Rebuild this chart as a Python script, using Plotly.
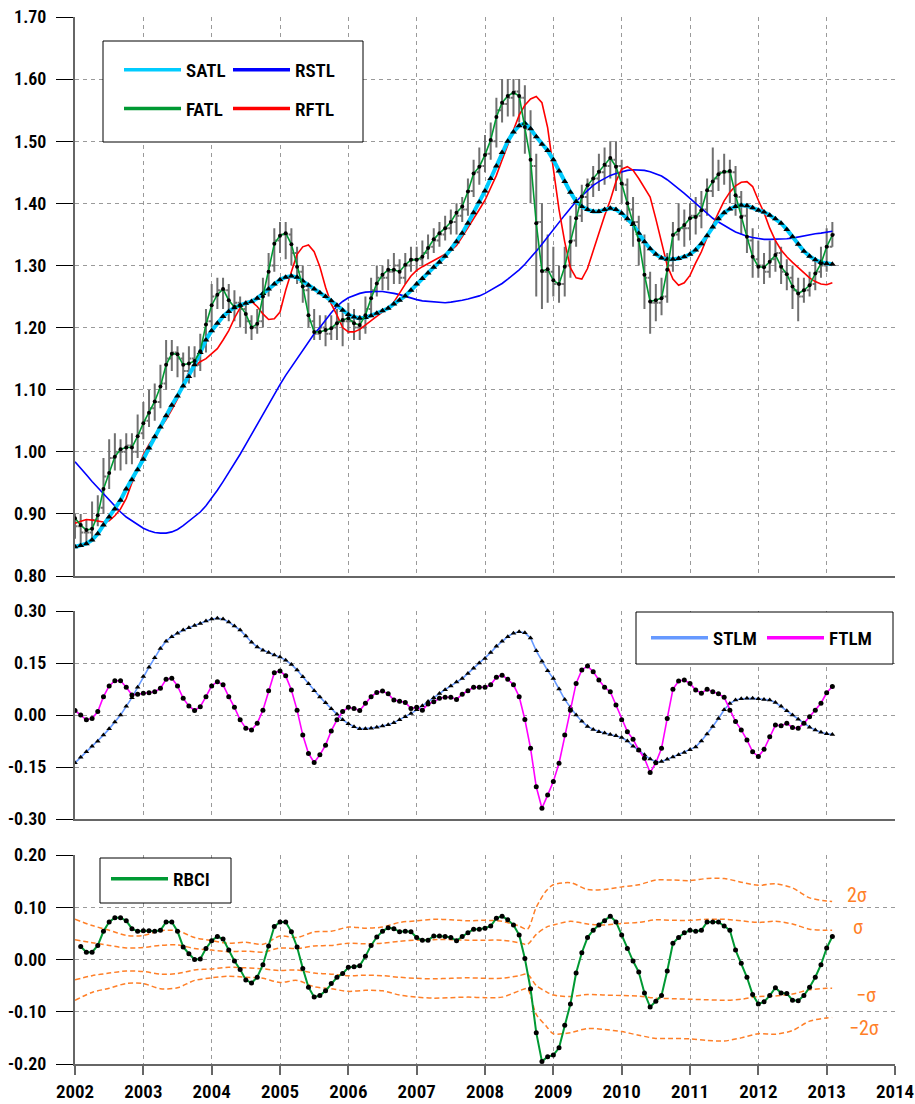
import plotly.graph_objects as go

# ---------------- data ----------------
years = list(range(2002, 2015))
year_labels = [str(y) for y in years]
months = [2002 + i / 12 for i in range(134)]          # monthly, Jan 2002 .. Feb 2013
rbci_months = months[1:]                                # Feb 2002 .. Feb 2013

ohlc_close = [
    0.88, 0.87, 0.87, 0.89, 0.91, 0.96, 0.99, 1.00, 1.00, 1.01, 1.00, 1.03,
    1.05, 1.07, 1.08, 1.11, 1.15, 1.16, 1.15, 1.13, 1.15, 1.14, 1.17, 1.21,
    1.25, 1.26, 1.26, 1.23, 1.24, 1.23, 1.21, 1.20, 1.21, 1.26, 1.30, 1.34,
    1.35, 1.35, 1.32, 1.29, 1.26, 1.21, 1.19, 1.20, 1.19, 1.20, 1.21, 1.21,
    1.21, 1.20, 1.20, 1.23, 1.26, 1.28, 1.28, 1.29, 1.30, 1.28, 1.30, 1.31,
    1.31, 1.32, 1.33, 1.34, 1.35, 1.36, 1.37, 1.38, 1.39, 1.42, 1.45, 1.46,
    1.48, 1.50, 1.55, 1.56, 1.57, 1.58, 1.57, 1.52, 1.46, 1.37, 1.29, 1.29,
    1.27, 1.27, 1.30, 1.34, 1.38, 1.41, 1.43, 1.44, 1.45, 1.46, 1.47, 1.46,
    1.43, 1.39, 1.37, 1.34, 1.28, 1.24, 1.24, 1.25, 1.30, 1.35, 1.36, 1.36,
    1.38, 1.38, 1.39, 1.42, 1.44, 1.45, 1.45, 1.45, 1.41, 1.38, 1.34, 1.31,
    1.30, 1.29, 1.31, 1.32, 1.29, 1.28, 1.26, 1.25, 1.26, 1.27, 1.29, 1.30,
    1.33, 1.35]
ohlc_high = [
    0.90, 0.90, 0.89, 0.92, 0.93, 0.99, 1.02, 1.03, 1.02, 1.03, 1.03, 1.06,
    1.08, 1.10, 1.11, 1.14, 1.18, 1.18, 1.17, 1.16, 1.17, 1.17, 1.19, 1.23,
    1.27, 1.28, 1.28, 1.27, 1.26, 1.25, 1.24, 1.22, 1.23, 1.28, 1.32, 1.36,
    1.37, 1.37, 1.36, 1.33, 1.30, 1.27, 1.23, 1.22, 1.22, 1.22, 1.23, 1.23,
    1.24, 1.23, 1.22, 1.25, 1.28, 1.30, 1.30, 1.31, 1.32, 1.31, 1.32, 1.33,
    1.33, 1.34, 1.35, 1.36, 1.37, 1.38, 1.39, 1.40, 1.41, 1.44, 1.47, 1.49,
    1.51, 1.53, 1.57, 1.60, 1.60, 1.60, 1.60, 1.59, 1.55, 1.48, 1.40, 1.35,
    1.33, 1.30, 1.33, 1.38, 1.41, 1.43, 1.44, 1.46, 1.48, 1.49, 1.50, 1.50,
    1.47, 1.44, 1.41, 1.38, 1.35, 1.29, 1.27, 1.28, 1.32, 1.37, 1.40, 1.39,
    1.40, 1.41, 1.42, 1.44, 1.49, 1.47, 1.48, 1.47, 1.46, 1.42, 1.40, 1.36,
    1.34, 1.32, 1.34, 1.34, 1.33, 1.31, 1.30, 1.28, 1.28, 1.29, 1.31, 1.33,
    1.36, 1.37]
ohlc_low = [
    0.86, 0.85, 0.85, 0.86, 0.88, 0.90, 0.94, 0.97, 0.97, 0.98, 0.98, 0.99,
    1.02, 1.04, 1.05, 1.07, 1.10, 1.13, 1.12, 1.11, 1.11, 1.12, 1.13, 1.16,
    1.20, 1.23, 1.23, 1.21, 1.21, 1.20, 1.19, 1.18, 1.19, 1.20, 1.25, 1.29,
    1.32, 1.31, 1.30, 1.27, 1.24, 1.20, 1.18, 1.18, 1.17, 1.18, 1.18, 1.17,
    1.19, 1.18, 1.18, 1.19, 1.22, 1.25, 1.26, 1.26, 1.27, 1.27, 1.27, 1.29,
    1.29, 1.30, 1.31, 1.32, 1.33, 1.34, 1.35, 1.35, 1.37, 1.38, 1.41, 1.43,
    1.45, 1.47, 1.49, 1.53, 1.54, 1.54, 1.53, 1.48, 1.40, 1.25, 1.23, 1.24,
    1.25, 1.24, 1.25, 1.28, 1.33, 1.37, 1.39, 1.41, 1.42, 1.43, 1.44, 1.42,
    1.40, 1.37, 1.33, 1.30, 1.23, 1.19, 1.21, 1.22, 1.24, 1.29, 1.34, 1.33,
    1.34, 1.35, 1.36, 1.38, 1.41, 1.42, 1.43, 1.40, 1.38, 1.35, 1.32, 1.28,
    1.28, 1.27, 1.28, 1.29, 1.27, 1.26, 1.23, 1.21, 1.24, 1.25, 1.26, 1.28,
    1.29, 1.33]
ohlc_open = [ohlc_close[0]] + ohlc_close[:-1]   # each bar opens at the previous close

satl = [
    0.847, 0.849, 0.852, 0.858, 0.868, 0.882, 0.895, 0.908, 0.922, 0.940, 0.955, 0.971,
    0.988, 1.006, 1.024, 1.040, 1.058, 1.075, 1.090, 1.106, 1.121, 1.140, 1.160, 1.180,
    1.195, 1.207, 1.218, 1.226, 1.232, 1.236, 1.239, 1.242, 1.247, 1.255, 1.262, 1.270,
    1.277, 1.281, 1.283, 1.281, 1.275, 1.268, 1.262, 1.256, 1.250, 1.243, 1.236, 1.228,
    1.221, 1.217, 1.215, 1.216, 1.219, 1.223, 1.227, 1.231, 1.238, 1.244, 1.251, 1.260,
    1.270, 1.279, 1.288, 1.297, 1.305, 1.315, 1.326, 1.338, 1.352, 1.368, 1.385, 1.402,
    1.420, 1.440, 1.460, 1.482, 1.500, 1.515, 1.525, 1.529, 1.520, 1.507, 1.495, 1.485,
    1.470, 1.452, 1.435, 1.418, 1.403, 1.395, 1.390, 1.387, 1.387, 1.390, 1.392, 1.390,
    1.384, 1.375, 1.366, 1.352, 1.338, 1.327, 1.318, 1.312, 1.310, 1.310, 1.311, 1.314,
    1.318, 1.325, 1.335, 1.348, 1.362, 1.375, 1.385, 1.391, 1.395, 1.397, 1.396, 1.393,
    1.389, 1.386, 1.381, 1.375, 1.368, 1.358, 1.346, 1.334, 1.323, 1.315, 1.309, 1.305,
    1.303, 1.302]
fatl = [
    0.893, 0.882, 0.874, 0.876, 0.898, 0.940, 0.966, 0.992, 1.004, 1.007, 1.007, 1.025,
    1.046, 1.063, 1.081, 1.105, 1.140, 1.158, 1.157, 1.140, 1.142, 1.146, 1.162, 1.205,
    1.236, 1.253, 1.262, 1.244, 1.233, 1.235, 1.222, 1.200, 1.206, 1.250, 1.290, 1.335,
    1.348, 1.352, 1.334, 1.298, 1.266, 1.220, 1.193, 1.193, 1.196, 1.199, 1.207, 1.212,
    1.215, 1.207, 1.204, 1.220, 1.247, 1.271, 1.285, 1.293, 1.293, 1.290, 1.301, 1.309,
    1.309, 1.314, 1.328, 1.342, 1.352, 1.360, 1.370, 1.385, 1.395, 1.419, 1.448, 1.459,
    1.478, 1.502, 1.539, 1.562, 1.573, 1.578, 1.573, 1.523, 1.470, 1.368, 1.291, 1.294,
    1.276, 1.270, 1.298, 1.338, 1.376, 1.411, 1.429, 1.440, 1.451, 1.462, 1.473, 1.459,
    1.432, 1.400, 1.368, 1.341, 1.285, 1.242, 1.244, 1.247, 1.293, 1.349, 1.357, 1.365,
    1.376, 1.378, 1.389, 1.421, 1.435, 1.447, 1.451, 1.452, 1.413, 1.378, 1.346, 1.314,
    1.298, 1.297, 1.306, 1.317, 1.298, 1.286, 1.266, 1.255, 1.260, 1.268, 1.287, 1.303,
    1.330, 1.349]
rftl = [
    0.885, 0.888, 0.891, 0.890, 0.888, 0.887, 0.889, 0.897, 0.908, 0.925, 0.950, 0.973,
    0.995, 1.012, 1.025, 1.037, 1.052, 1.068, 1.085, 1.108, 1.128, 1.138, 1.145, 1.150,
    1.158, 1.166, 1.180, 1.195, 1.215, 1.232, 1.242, 1.242, 1.234, 1.222, 1.213, 1.214,
    1.225, 1.260, 1.290, 1.318, 1.330, 1.333, 1.322, 1.298, 1.265, 1.238, 1.220, 1.200,
    1.193, 1.193, 1.197, 1.204, 1.211, 1.217, 1.224, 1.232, 1.241, 1.256, 1.270, 1.283,
    1.292, 1.298, 1.303, 1.307, 1.312, 1.318, 1.324, 1.332, 1.346, 1.360, 1.375, 1.390,
    1.405, 1.425, 1.445, 1.470, 1.495, 1.518, 1.542, 1.558, 1.568, 1.572, 1.562, 1.522,
    1.460, 1.390, 1.338, 1.296, 1.280, 1.278, 1.295, 1.325, 1.352, 1.380, 1.405, 1.435,
    1.455, 1.459, 1.453, 1.440, 1.425, 1.410, 1.375, 1.335, 1.300, 1.278, 1.268, 1.272,
    1.284, 1.304, 1.322, 1.345, 1.366, 1.385, 1.404, 1.418, 1.428, 1.434, 1.435, 1.427,
    1.405, 1.385, 1.360, 1.340, 1.325, 1.314, 1.305, 1.297, 1.289, 1.280, 1.274, 1.270,
    1.269, 1.272]
rstl = [
    0.984, 0.974, 0.963, 0.952, 0.942, 0.932, 0.922, 0.912, 0.903, 0.895, 0.889, 0.883,
    0.877, 0.873, 0.870, 0.869, 0.869, 0.871, 0.875, 0.881, 0.888, 0.895, 0.903, 0.913,
    0.925, 0.938, 0.952, 0.966, 0.980, 0.996, 1.012, 1.028, 1.045, 1.062, 1.078, 1.093,
    1.108, 1.123, 1.136, 1.150, 1.163, 1.177, 1.190, 1.200, 1.213, 1.224, 1.234, 1.242,
    1.248, 1.252, 1.255, 1.257, 1.258, 1.258, 1.258, 1.257, 1.255, 1.253, 1.250, 1.247,
    1.245, 1.243, 1.242, 1.241, 1.240, 1.240, 1.241, 1.242, 1.244, 1.246, 1.248, 1.251,
    1.255, 1.260, 1.265, 1.271, 1.278, 1.285, 1.293, 1.302, 1.312, 1.323, 1.334, 1.346,
    1.358, 1.370, 1.381, 1.392, 1.403, 1.412, 1.421, 1.429, 1.435, 1.440, 1.445, 1.448,
    1.451, 1.453, 1.454, 1.454, 1.453, 1.451, 1.448, 1.444, 1.438, 1.431, 1.424, 1.416,
    1.408, 1.400, 1.392, 1.384, 1.376, 1.370, 1.364, 1.359, 1.354, 1.350, 1.347, 1.345,
    1.343, 1.342, 1.342, 1.342, 1.342, 1.343, 1.344, 1.346, 1.348, 1.350, 1.351, 1.352,
    1.354, 1.355]

stlm = [
    -0.138, -0.122, -0.106, -0.090, -0.076, -0.058, -0.040, -0.020, 0.000, 0.025, 0.050, 0.080,
    0.111, 0.138, 0.165, 0.192, 0.213, 0.226, 0.236, 0.245, 0.252, 0.258, 0.264, 0.271,
    0.277, 0.279, 0.277, 0.268, 0.257, 0.245, 0.228, 0.210, 0.196, 0.187, 0.180, 0.173,
    0.167, 0.158, 0.146, 0.130, 0.110, 0.090, 0.070, 0.052, 0.035, 0.018, 0.002, -0.014,
    -0.025, -0.034, -0.040, -0.040, -0.038, -0.035, -0.032, -0.028, -0.022, -0.014, -0.005, 0.004,
    0.015, 0.027, 0.039, 0.050, 0.062, 0.073, 0.084, 0.095, 0.105, 0.120, 0.135, 0.150,
    0.163, 0.180, 0.198, 0.213, 0.226, 0.236, 0.240, 0.237, 0.222, 0.185, 0.155, 0.128,
    0.105, 0.075, 0.045, 0.022, 0.000, -0.018, -0.033, -0.042, -0.048, -0.052, -0.056, -0.060,
    -0.065, -0.075, -0.090, -0.102, -0.115, -0.127, -0.135, -0.134, -0.128, -0.121, -0.115, -0.108,
    -0.100, -0.092, -0.075, -0.055, -0.033, -0.010, 0.015, 0.033, 0.043, 0.047, 0.048, 0.048,
    0.047, 0.045, 0.043, 0.036, 0.025, 0.012, 0.000, -0.012, -0.024, -0.035, -0.043, -0.050,
    -0.054, -0.056]
ftlm = [
    0.013, 0.000, -0.014, -0.010, 0.010, 0.053, 0.084, 0.099, 0.099, 0.080, 0.058, 0.060,
    0.063, 0.064, 0.067, 0.077, 0.103, 0.106, 0.084, 0.048, 0.026, 0.013, 0.024, 0.053,
    0.084, 0.096, 0.087, 0.053, 0.022, -0.014, -0.038, -0.043, -0.024, 0.014, 0.070, 0.122,
    0.127, 0.113, 0.072, 0.014, -0.058, -0.111, -0.137, -0.115, -0.087, -0.046, -0.014, 0.010,
    0.022, 0.019, 0.013, 0.034, 0.053, 0.065, 0.069, 0.061, 0.043, 0.040, 0.036, 0.019,
    0.022, 0.014, 0.032, 0.038, 0.048, 0.051, 0.051, 0.045, 0.060, 0.070, 0.080, 0.080,
    0.080, 0.087, 0.109, 0.115, 0.103, 0.087, 0.053, -0.013, -0.096, -0.207, -0.269, -0.231,
    -0.192, -0.139, -0.058, 0.014, 0.091, 0.130, 0.141, 0.125, 0.101, 0.080, 0.067, 0.029,
    -0.014, -0.048, -0.070, -0.101, -0.125, -0.166, -0.138, -0.096, -0.010, 0.074, 0.098, 0.101,
    0.091, 0.072, 0.063, 0.074, 0.067, 0.061, 0.051, 0.014, -0.019, -0.043, -0.072, -0.106,
    -0.120, -0.099, -0.063, -0.029, -0.031, -0.024, -0.036, -0.038, -0.024, -0.005, 0.014, 0.034,
    0.064, 0.082]

rbci = [
    0.025, 0.014, 0.014, 0.027, 0.054, 0.072, 0.080, 0.080, 0.074, 0.059, 0.054, 0.055,
    0.055, 0.054, 0.056, 0.072, 0.072, 0.054, 0.024, 0.011, 0.000, 0.001, 0.021, 0.036,
    0.044, 0.039, 0.018, -0.003, -0.019, -0.039, -0.045, -0.034, -0.010, 0.026, 0.063, 0.072,
    0.072, 0.053, 0.024, -0.017, -0.053, -0.072, -0.069, -0.060, -0.046, -0.034, -0.027, -0.015,
    -0.014, -0.012, 0.006, 0.027, 0.043, 0.054, 0.061, 0.059, 0.053, 0.054, 0.053, 0.042,
    0.037, 0.037, 0.045, 0.045, 0.044, 0.042, 0.036, 0.044, 0.051, 0.058, 0.058, 0.060,
    0.064, 0.079, 0.083, 0.076, 0.066, 0.047, 0.002, -0.056, -0.140, -0.195, -0.186, -0.183,
    -0.169, -0.126, -0.085, -0.026, 0.013, 0.042, 0.056, 0.066, 0.074, 0.083, 0.072, 0.047,
    0.021, -0.003, -0.024, -0.064, -0.091, -0.080, -0.069, -0.022, 0.031, 0.042, 0.051, 0.056,
    0.054, 0.056, 0.072, 0.072, 0.072, 0.064, 0.056, 0.018, -0.007, -0.034, -0.067, -0.085,
    -0.081, -0.069, -0.054, -0.064, -0.065, -0.078, -0.079, -0.069, -0.053, -0.034, -0.010, 0.022,
    0.044]

band_x = [2002.0, 2002.25, 2002.5, 2002.75, 2003.0, 2003.25, 2003.5, 2003.75, 2004.0, 2004.25,
          2004.5, 2004.75, 2005.0, 2005.25, 2005.5, 2005.75, 2006.0, 2006.25, 2006.5, 2006.75,
          2007.0, 2007.25, 2007.5, 2007.75, 2008.0, 2008.25, 2008.5, 2008.62, 2008.75, 2008.9,
          2009.0, 2009.25, 2009.5, 2009.75, 2010.0, 2010.25, 2010.5, 2010.75, 2011.0, 2011.25,
          2011.5, 2011.75, 2012.0, 2012.25, 2012.5, 2012.75, 2013.0, 2013.08]
band_p2 = [0.077, 0.065, 0.056, 0.046, 0.046, 0.055, 0.055, 0.042, 0.036, 0.031,
           0.033, 0.029, 0.045, 0.042, 0.053, 0.054, 0.062, 0.060, 0.062, 0.071,
           0.074, 0.077, 0.076, 0.074, 0.075, 0.073, 0.064, 0.058, 0.100, 0.132,
           0.143, 0.147, 0.134, 0.134, 0.139, 0.143, 0.152, 0.152, 0.151, 0.155,
           0.155, 0.148, 0.142, 0.145, 0.137, 0.118, 0.112, 0.111]
band_p1 = [0.038, 0.032, 0.027, 0.022, 0.023, 0.027, 0.028, 0.021, 0.018, 0.015,
           0.016, 0.014, 0.022, 0.021, 0.026, 0.027, 0.031, 0.030, 0.031, 0.035,
           0.037, 0.038, 0.038, 0.037, 0.037, 0.037, 0.032, 0.029, 0.048, 0.062,
           0.066, 0.073, 0.068, 0.066, 0.069, 0.071, 0.076, 0.075, 0.075, 0.077,
           0.077, 0.074, 0.071, 0.073, 0.068, 0.058, 0.056, 0.056]
band_m1 = [-0.039, -0.031, -0.026, -0.022, -0.023, -0.028, -0.027, -0.020, -0.018, -0.015,
           -0.016, -0.018, -0.021, -0.020, -0.026, -0.028, -0.031, -0.030, -0.031, -0.034,
           -0.036, -0.037, -0.036, -0.035, -0.036, -0.036, -0.031, -0.028, -0.050, -0.062,
           -0.068, -0.071, -0.067, -0.068, -0.069, -0.070, -0.074, -0.075, -0.076, -0.077,
           -0.078, -0.076, -0.071, -0.070, -0.066, -0.058, -0.055, -0.055]
band_m2 = [-0.078, -0.063, -0.055, -0.046, -0.046, -0.056, -0.054, -0.040, -0.035, -0.032,
           -0.034, -0.036, -0.044, -0.040, -0.052, -0.056, -0.061, -0.059, -0.060, -0.068,
           -0.072, -0.074, -0.073, -0.072, -0.073, -0.072, -0.060, -0.056, -0.105, -0.128,
           -0.142, -0.140, -0.132, -0.134, -0.138, -0.145, -0.151, -0.151, -0.152, -0.155,
           -0.156, -0.150, -0.142, -0.143, -0.136, -0.118, -0.112, -0.111]
band_labels = ["2\u03c3", "\u03c3", "\u2212\u03c3", "\u22122\u03c3"]
band_label_y = [0.123, 0.063, -0.067, -0.131]

top_ticks = [0.80, 0.90, 1.00, 1.10, 1.20, 1.30, 1.40, 1.50, 1.60, 1.70]
top_ticktext = ["0.80", "0.90", "1.00", "1.10", "1.20", "1.30", "1.40", "1.50", "1.60", "1.70"]
mid_ticks = [-0.30, -0.15, 0.0, 0.15, 0.30]
mid_ticktext = ["-0.30", "-0.15", "0.00", "0.15", "0.30"]
bot_ticks = [-0.20, -0.10, 0.0, 0.10, 0.20]
bot_ticktext = ["-0.20", "-0.10", "0.00", "0.10", "0.20"]

# ---------------- styling ----------------
FONT = ("Noto Sans ExtraCondensed, Noto Sans Condensed, Liberation Sans Narrow, Roboto Condensed, "
        "DejaVu Sans Condensed, Liberation Sans, sans-serif")
GRID = "#9a9a9a"
AXIS = "#666666"
ORANGE = "#FF7F27"
TXT_W = 600

fig = go.Figure()

fig.add_trace(go.Ohlc(
    x=months, open=ohlc_open, high=ohlc_high, low=ohlc_low, close=ohlc_close,
    increasing=dict(line=dict(color="#707070", width=2)),
    decreasing=dict(line=dict(color="#707070", width=2)),
    tickwidth=0.45, showlegend=False, hoverinfo="skip", xaxis="x", yaxis="y"))

def line(x, y, color, width, xa, ya):
    fig.add_trace(go.Scatter(x=x, y=y, mode="lines", line=dict(color=color, width=width),
                             showlegend=False, hoverinfo="skip", xaxis=xa, yaxis=ya))

def marks(x, y, symbol, size, xa, ya):
    fig.add_trace(go.Scatter(x=x, y=y, mode="markers",
                             marker=dict(symbol=symbol, size=size, color="black", line=dict(width=0)),
                             showlegend=False, hoverinfo="skip", xaxis=xa, yaxis=ya))

def legend_entry(name, color, legend, group):
    fig.add_trace(go.Scatter(x=[None], y=[None], mode="lines", name=name,
                             line=dict(color=color, width=3.5), legend=legend,
                             legendgroup=group, showlegend=True, xaxis="x", yaxis="y"))

# top panel
line(months, rstl, "#0000FF", 1.6, "x", "y")
line(months, rftl, "#FF0000", 1.6, "x", "y")
line(months, satl, "#00CCFF", 4, "x", "y")
marks(months, satl, "triangle-up", 6, "x", "y")
line(months, fatl, "#009933", 1.6, "x", "y")
marks(months, fatl, "circle", 4, "x", "y")

# middle panel
line(months, stlm, "#6699FF", 1.6, "x2", "y2")
marks(months, stlm, "triangle-up", 5, "x2", "y2")
line(months, ftlm, "#FF00FF", 1.6, "x2", "y2")
marks(months, ftlm, "circle", 5, "x2", "y2")

# bottom panel
for band in (band_p2, band_p1, band_m1, band_m2):
    fig.add_trace(go.Scatter(x=band_x, y=band, mode="lines",
                             line=dict(color=ORANGE, width=1.5, dash="5px,3px", shape="spline", smoothing=0.8),
                             showlegend=False, hoverinfo="skip", xaxis="x3", yaxis="y3"))
line(rbci_months, rbci, "#009933", 2, "x3", "y3")
marks(rbci_months, rbci, "circle", 5, "x3", "y3")

# legend entries
legend_entry("SATL", "#00CCFF", "legend", "a")
legend_entry("FATL", "#009933", "legend", "b")
legend_entry("RSTL", "#0000FF", "legend2", "c")
legend_entry("RFTL", "#FF0000", "legend2", "d")
legend_entry("STLM", "#6699FF", "legend3", "e")
legend_entry("FTLM", "#FF00FF", "legend3", "f")
legend_entry("RBCI", "#009933", "legend4", "g")

label_x = [2013.45, 2013.46, 2013.57, 2013.55]
for lab, xv, yv in zip(band_labels, label_x, band_label_y):
    fig.add_annotation(x=xv, y=yv, xref="x3", yref="y3", text=lab, showarrow=False,
                       font=dict(family=FONT, size=20, color=ORANGE), xanchor="center", yanchor="middle")

# legend boxes
W, H, L, B = 820, 1047, 75, 40
def px_x(p): return (p - L) / W
def px_y(p): return (1104 - B - p) / H
for (x0, y0, x1, y1) in [(103, 41, 363, 142), (636, 612, 893, 664), (100, 858, 231, 903)]:
    fig.add_shape(type="rect", xref="paper", yref="paper",
                  x0=px_x(x0), x1=px_x(x1), y0=px_y(y1), y1=px_y(y0),
                  line=dict(color="black", width=1), fillcolor="white", layer="above")

leg_common = dict(bgcolor="rgba(0,0,0,0)", borderwidth=0,
                  font=dict(family=FONT, size=19, color="black", weight=TXT_W),
                  xanchor="left", yanchor="top", itemwidth=57, traceorder="grouped", itemclick=False)
common_x = dict(range=[2002, 2014], tickvals=years, ticktext=year_labels, showgrid=True, gridcolor=GRID,
                griddash="4px,4px", gridwidth=1, zeroline=False, showline=True, linecolor=AXIS, linewidth=2,
                rangeslider=dict(visible=False), fixedrange=True, automargin=False)
common_y = dict(showgrid=True, gridcolor=GRID, griddash="4px,4px", gridwidth=1, zeroline=False,
                showline=True, linecolor=AXIS, linewidth=2, ticks="outside", ticklen=17, tickcolor="black",
                tickwidth=1, ticklabelstandoff=6, automargin=False, fixedrange=True,
                tickfont=dict(family=FONT, size=18, color="black", weight=TXT_W))

fig.update_layout(
    width=915, height=1104, margin=dict(l=L, r=20, t=17, b=B),
    paper_bgcolor="white", plot_bgcolor="white", showlegend=True,
    xaxis=dict(common_x, anchor="y", showticklabels=False, ticks=""),
    xaxis2=dict(common_x, anchor="y2", matches="x", showticklabels=False, ticks=""),
    xaxis3=dict(common_x, anchor="y3", matches="x", ticks="outside", ticklen=9, tickcolor=AXIS, tickwidth=2,
                ticklabeloverflow="allow",
                tickfont=dict(family=FONT, size=19, color="black", weight=TXT_W)),
    yaxis=dict(common_y, domain=[px_y(576), 1.0], range=[0.80, 1.70], tickvals=top_ticks, ticktext=top_ticktext),
    yaxis2=dict(common_y, domain=[px_y(819), px_y(611)], range=[-0.30, 0.30], tickvals=mid_ticks, ticktext=mid_ticktext),
    yaxis3=dict(common_y, domain=[0, px_y(855)], range=[-0.20, 0.20], tickvals=bot_ticks, ticktext=bot_ticktext),
    legend=dict(leg_common, x=px_x(119), y=px_y(51), tracegroupgap=11),
    legend2=dict(leg_common, x=px_x(228), y=px_y(51), tracegroupgap=11),
    legend3=dict(leg_common, x=px_x(646), y=px_y(619), orientation="h", entrywidth=44, entrywidthmode="pixels"),
    legend4=dict(leg_common, x=px_x(106), y=px_y(860)),
    hovermode=False,
)

fig.write_html("out.html",
               config={"displayModeBar": False, "staticPlot": False},
               post_script="document.body.style.margin='0px'; document.body.style.padding='0px'; "
                           "document.documentElement.style.margin='0px';")
